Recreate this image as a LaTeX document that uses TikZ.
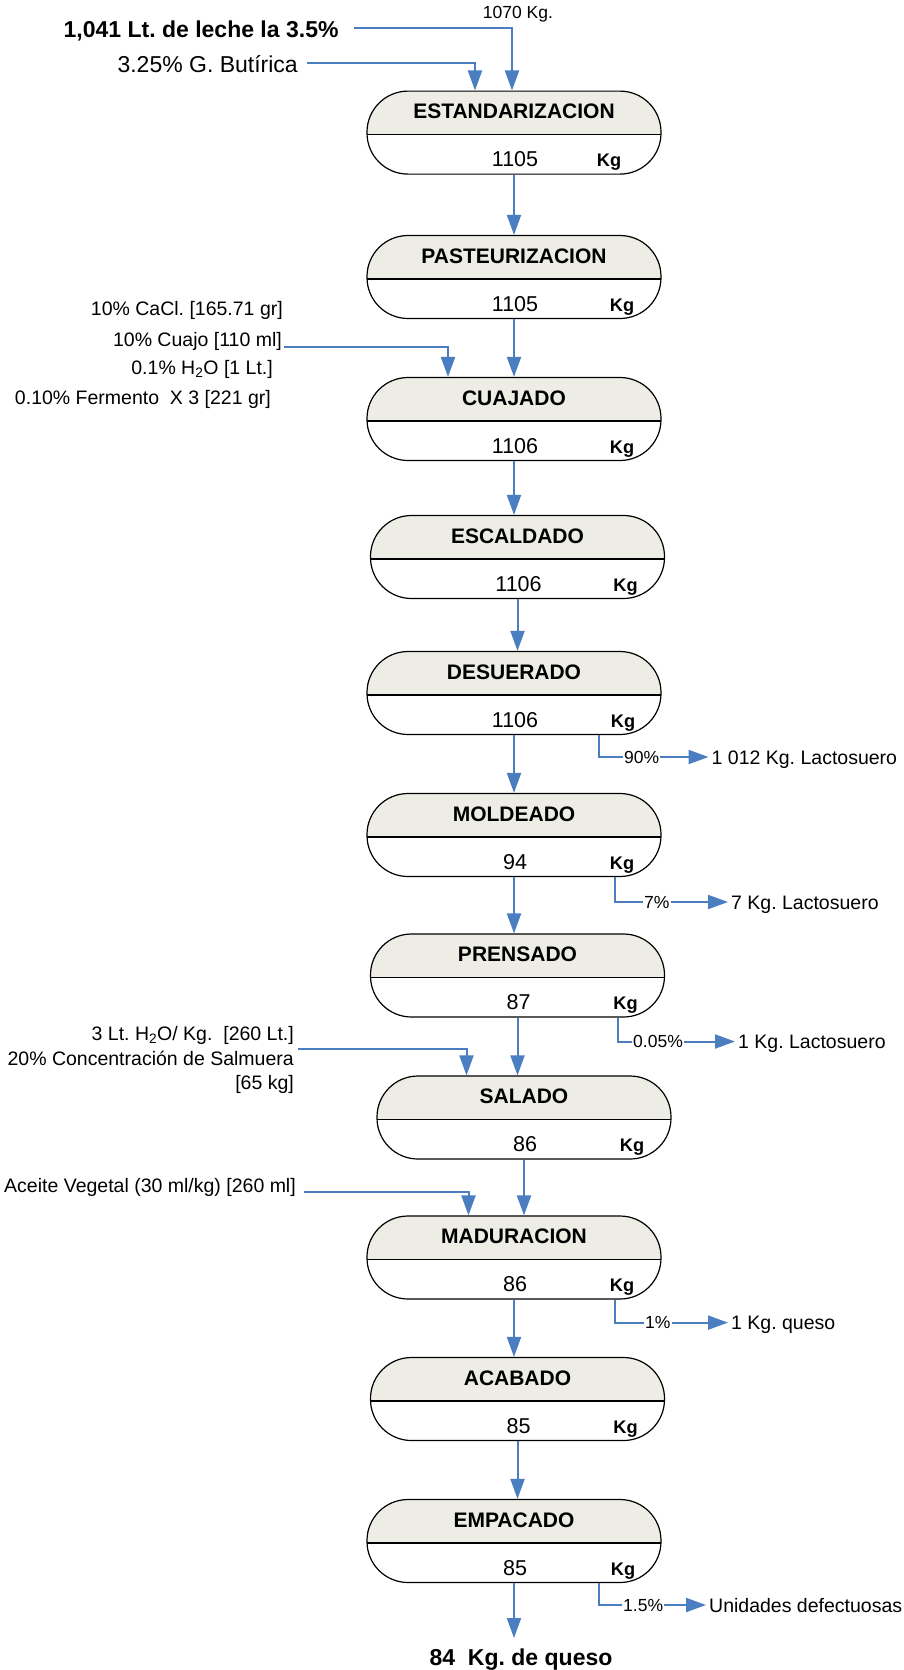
\documentclass[tikz,border=0pt]{standalone}
\usepackage{fontspec}
\setmainfont{Liberation Sans}
\usepackage{tikz}
\usetikzlibrary{arrows.meta, calc}
\definecolor{flowblue}{RGB}{74,126,193}
\definecolor{procfill}{RGB}{237,237,229}
\frenchspacing

\begin{document}
\begin{tikzpicture}[x=1pt, y=-1pt,
  proc/.style={draw=black, line width=1.2pt, rounded corners=41pt,
    minimum width=294pt, minimum height=83pt, inner sep=0pt,
    path picture={
      \fill[procfill, sharp corners] (path picture bounding box.north west) rectangle ([yshift=-2pt]path picture bounding box.east);
      \draw[line width=1.2pt, sharp corners] ([yshift=-2pt]path picture bounding box.west) -- ([yshift=-2pt]path picture bounding box.east);}},
  ttl/.style={anchor=base, inner sep=0pt, font=\fontsize{21}{24}\selectfont\bfseries},
  val/.style={anchor=base, inner sep=0pt, font=\fontsize{21.5}{24}\selectfont},
  kg/.style={anchor=base, inner sep=0pt, font=\fontsize{18.2}{21}\selectfont\bfseries},
  side/.style={inner sep=0pt, font=\fontsize{19.5}{23}\selectfont},
  pct/.style={anchor=west, inner xsep=1pt, inner ysep=0pt, font=\fontsize{17.5}{20}\selectfont},
  big/.style={inner sep=0pt, font=\fontsize{23}{26}\selectfont},
  flowline/.style={draw=flowblue, line width=2pt},
  flow/.style={flowline, -{Triangle[length=20pt, width=14pt]}, flowblue}]
\useasboundingbox (0,0) rectangle (903,1670);

% process boxes: name / x / y / title / mass / offset of Kg
\foreach \n/\x/\y/\t/\v/\k in {
  1/514/132.6/ESTANDARIZACION/1105/95,
  2/514/277/PASTEURIZACION/1105/108,
  3/514/419/CUAJADO/1106/108,
  4/517.5/557/ESCALDADO/1106/108,
  5/514/693/DESUERADO/1106/109,
  6/514/835/MOLDEADO/94/108,
  7/517.5/975.5/PRENSADO/87/108,
  8/524/1117.5/SALADO/86/108,
  9/514/1257.5/MADURACION/86/108,
  10/517.5/1399/ACABADO/85/108,
  11/514/1541/EMPACADO/85/109}
{
  \node[proc] (b\n) at (\x,\y) {};
  \node[ttl] (t\n) at (\x,\y-14) {\t};
  \node[val] (v\n) at (\x+1,\y+34) {\v};
  \node[kg] (k\n) at (\x+\k,\y+34) {Kg};
}
\foreach \a/\b in {1/2,2/3,3/4,4/5,5/6,6/7,7/8,8/9,9/10,10/11}
  \draw[flow] (b\a.south) -- (b\a.south |- b\b.north);

% inputs
\node[big, anchor=base east, font=\fontsize{23}{26}\selectfont\bfseries] (leche) at (338.7,37.5) {1,041 Lt. de leche la 3.5\%};
\node[big, anchor=base east] (grasa) at (298,72.7) {3.25\% G. Butírica};
\node[side, anchor=base, font=\fontsize{17.5}{20}\selectfont] (kgin) at (518,19) {1070 Kg.};
\coordinate (c1) at (512,28.3);
\coordinate (c2) at (475,63.3);
\draw[flow, shorten <=15pt] (leche.east |- c1) -- (c1) -- (c1 |- b1.north);
\draw[flow, shorten <=9pt] (grasa.east |- c2) -- (c2) -- (c2 |- b1.north);

\node[side, anchor=base east] (cacl) at (283,315) {10\% CaCl. [165.71 gr]};
\node[side, anchor=base east] (cuajo) at (282,346) {10\% Cuajo [110 ml]};
\node[side, anchor=base east] (agua) at (273,374) {0.1\% H\textsubscript{2}O [1 Lt.]};
\node[side, anchor=base east] (ferm) at (271,404) {0.10\% Fermento\ \ X 3 [221 gr]};
\coordinate (c3) at (448,346.5);
\draw[flow, shorten <=2pt] (cuajo.east |- c3) -- (c3) -- (c3 |- b3.north);

\node[side, anchor=base east] (s1) at (294,1040) {3 Lt. H\textsubscript{2}O/ Kg.\ \ [260 Lt.]};
\node[side, anchor=base east] (s2) at (294,1065) {20\% Concentración de Salmuera};
\node[side, anchor=base east] (s3) at (294,1089) {[65 kg]};
\coordinate (c8) at (466.5,1049);
\draw[flow, shorten <=4pt] (s2.east |- c8) -- (c8) -- (c8 |- b8.north);

\node[side, anchor=base east] (aceite) at (296,1192) {Aceite Vegetal (30 ml/kg) [260 ml]};
\coordinate (c9) at (468.5,1191.6);
\draw[flow, shorten <=7.5pt] (aceite.east |- c9) -- (c9) -- (c9 |- b9.north);

% losses
\foreach \n/\dx/\ly/\px/\p/\ox/\o in {
  5/84.5/757/623/90\%/708.5/1 012 Kg. Lactosuero,
  6/100.5/902/643/7\%/728/7 Kg. Lactosuero,
  7/100.5/1041.5/632/0.05\%/735/1 Kg. Lactosuero,
  9/100.5/1322.6/644/1\%/728/1 Kg. queso,
  11/84.7/1605/622/1.5\%/706/Unidades defectuosas}
{
  \node[pct] (p\n) at (\px,\ly) {\p};
  \node[side, anchor=base west, inner xsep=3pt] (o\n) at (\ox,\ly+7) {\o};
  \draw[flowline] ([xshift=\dx pt]b\n.south) |- (p\n.west);
  \draw[flow] (p\n.east) -- (o\n.west |- p\n.east);
}

% product
\coordinate (fin) at (515,1638);
\node[big, anchor=base, font=\fontsize{23}{26}\selectfont\bfseries] (queso) at (521,1665) {84\ \ Kg. de queso};
\draw[flow] (b11.south) -- (b11.south |- fin);
\end{tikzpicture}
\end{document}
